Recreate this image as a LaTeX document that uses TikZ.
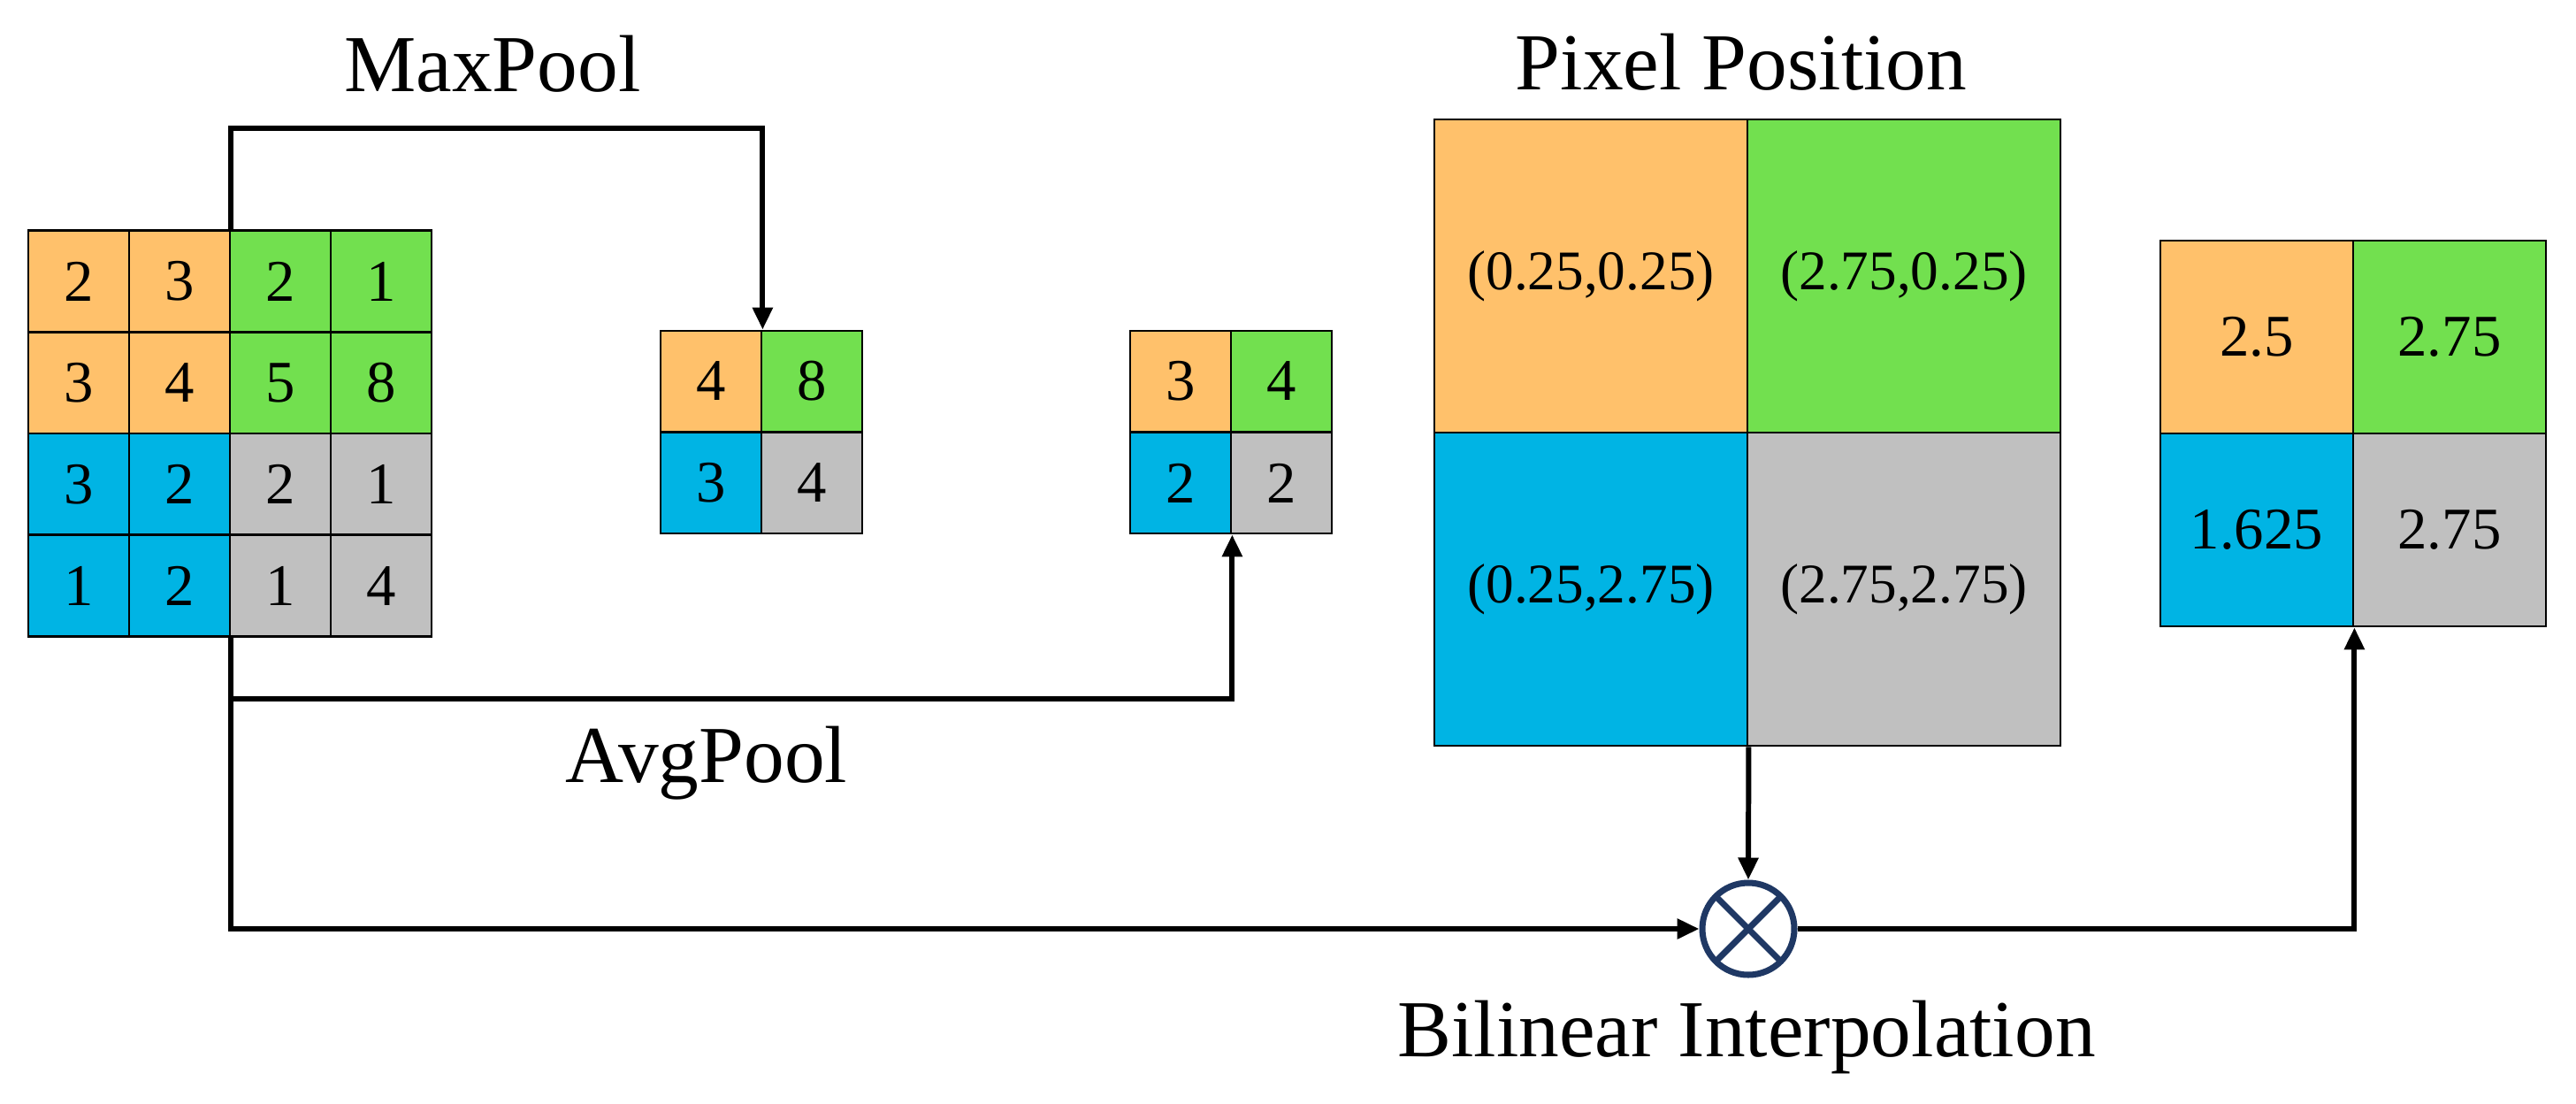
\documentclass[tikz,border=0pt]{standalone}
\usepackage{fontspec}
\setmainfont{Liberation Serif}
\usetikzlibrary{arrows.meta,calc}
\definecolor{q00}{HTML}{FFC16B}
\definecolor{q01}{HTML}{72E04F}
\definecolor{q10}{HTML}{00B4E4}
\definecolor{q11}{HTML}{C0C0C0}
\definecolor{navy}{HTML}{1F3864}
\tikzset{
  cell/.style={draw=black, line width=0.8pt, inner sep=0pt, font=\fontsize{19}{19}\selectfont},
  label/.style={font=\fontsize{26}{26}\selectfont},
  flow/.style={line width=1.7pt, -{Triangle[length=0.25cm,width=0.22cm]}}
}
\begin{document}
\begin{tikzpicture}
  \useasboundingbox (0,0) rectangle (29.13,-12.47);

  % input feature map
  \foreach \v [count=\k from 0] in {2,3,2,1,3,4,5,8,3,2,2,1,1,2,1,4} {
    \pgfmathtruncatemacro{\c}{mod(\k,4)}
    \pgfmathtruncatemacro{\r}{int(\k/4)}
    \pgfmathtruncatemacro{\qr}{int(\r/2)}
    \pgfmathtruncatemacro{\qc}{int(\c/2)}
    \node (in-\k) [cell, fill=q\qr\qc, minimum width=1.14cm, minimum height=1.147cm]
      at (0.89+1.14*\c, -3.18-1.147*\r) {\v};
  }

  % pooled maps
  \foreach \v [count=\k from 0] in {4,8,3,4} {
    \pgfmathtruncatemacro{\c}{mod(\k,2)}
    \pgfmathtruncatemacro{\r}{int(\k/2)}
    \node (mx-\k) [cell, fill=q\r\c, minimum size=1.14cm]
      at (8.04+1.14*\c, -4.31-1.15*\r) {\v};
  }
  \foreach \v [count=\k from 0] in {3,4,2,2} {
    \pgfmathtruncatemacro{\c}{mod(\k,2)}
    \pgfmathtruncatemacro{\r}{int(\k/2)}
    \node (av-\k) [cell, fill=q\r\c, minimum size=1.14cm]
      at (13.35+1.14*\c, -4.31-1.15*\r) {\v};
  }

  % pixel positions
  \foreach \v [count=\k from 0] in {(0.25{,}0.25),(2.75{,}0.25),(0.25{,}2.75),(2.75{,}2.75)} {
    \pgfmathtruncatemacro{\c}{mod(\k,2)}
    \pgfmathtruncatemacro{\r}{int(\k/2)}
    \node (px-\k) [cell, fill=q\r\c, minimum size=3.54cm, font=\fontsize{18}{18}\selectfont]
      at (17.99+3.54*\c, -3.12-3.54*\r) {\v};
  }

  % output
  \foreach \v [count=\k from 0] in {2.5,2.75,1.625,2.75} {
    \pgfmathtruncatemacro{\c}{mod(\k,2)}
    \pgfmathtruncatemacro{\r}{int(\k/2)}
    \node (out-\k) [cell, fill=q\r\c, minimum size=2.18cm]
      at (25.52+2.18*\c, -3.81-2.18*\r) {\v};
  }

  \node (mul) [circle, draw=navy, line width=2pt, minimum size=1.04cm, inner sep=0pt,
    path picture={\draw[navy, line width=2pt]
      (path picture bounding box.north west) -- (path picture bounding box.south east)
      (path picture bounding box.north east) -- (path picture bounding box.south west);}]
    at (19.77,-10.50) {};

  % labels
  \node (lmax) [label] at (5.57,-0.72) {MaxPool};
  \node (lavg) [label] at (7.99,-8.63) {AvgPool};
  \node (lpix) [label] at (19.69,-0.70) {Pixel Position};
  \node (lbil) [label] at (19.75,-11.73) {Bilinear Interpolation};

  % connections
  \draw [flow] (in-1.north east) -- ++(0,1.14) -| (mx-0.north east);
  \draw [flow] (in-13.south east) -- ++(0,-0.69) -| (av-2.south east);
  \draw [flow] (in-13.south east) |- (mul.west);
  \draw [flow] (px-2.south east) -- (mul.north);
  \draw [flow] (mul.east) -| (out-2.south east);
\end{tikzpicture}
\end{document}
